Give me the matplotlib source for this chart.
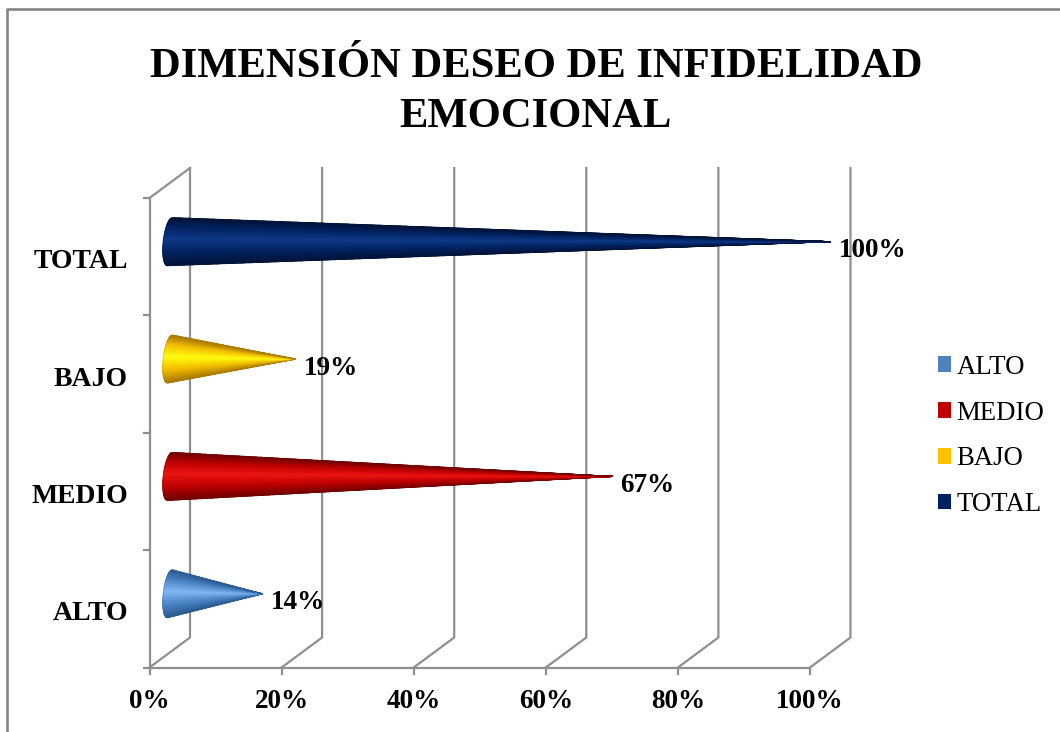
import numpy as np
import matplotlib
matplotlib.use('Agg')
import matplotlib.pyplot as plt
from matplotlib.colors import LinearSegmentedColormap
from matplotlib.lines import Line2D
from matplotlib.patches import Patch

#Data
categories = ['ALTO', 'MEDIO', 'BAJO', 'TOTAL']
values = [14, 67, 19, 100]
value_labels = ['14%', '67%', '19%', '100%']
x_ticks = [0, 20, 40, 60, 80, 100]
title_text = 'DIMENSIÓN DESEO DE INFIDELIDAD\nEMOCIONAL'

#Colours of each cone: edge, body, highlight
legend_colors = ['#4f81bd', '#c00000', '#ffc000', '#002060']
cone_colors = [['#2c5c90', '#4c86c8', '#84b8f4'],
               ['#700000', '#bc0000', '#ee1414'],
               ['#a87a00', '#f4be00', '#ffff10'],
               ['#001338', '#022260', '#0e3a88']]

W, H = 1060, 732
plt.rcParams['font.family'] = ['Liberation Serif', 'DejaVu Serif']
fig = plt.figure(figsize=(W/100, H/100), dpi=100)

#Front plane of the 3D box in pixels
left, right, top, bottom = 149.5, 810, 198, 667.5
ax = fig.add_axes([left/W, 1-bottom/H, (right-left)/W, (bottom-top)/H])
ax.set_xlim(0, 100)
ax.set_ylim(0, 4)
ax.patch.set_alpha(0)

px_x = (right-left)/100
px_y = (bottom-top)/4
dx = 40.5/px_x  #depth of the box
dy = 30/px_y
grey = '#8f8f8f'

for s in ['top', 'right']:
    ax.spines[s].set_visible(False)
for s in ['left', 'bottom']:
    ax.spines[s].set_color(grey)
    ax.spines[s].set_linewidth(1.6)

ax.set_xticks(x_ticks)
ax.set_xticklabels([str(t)+'%' for t in x_ticks], fontsize=19.5, fontweight='bold')
ax.tick_params(axis='x', length=5, width=1.6, color=grey, pad=10.5)
ax.set_yticks(range(5))
ax.set_yticklabels([])
ax.tick_params(axis='y', which='major', length=5, width=1.6, color=grey)
ax.set_yticks(np.arange(len(categories))+0.5-2/px_y, minor=True)
ax.set_yticklabels(categories, minor=True, fontsize=20, fontweight='bold')
ax.tick_params(axis='y', which='minor', length=0, pad=15.5)

#Wall lines going back from the floor
for t in x_ticks:
    ax.plot([t, t+dx, t+dx], [0, dy, 4+dy], color=grey, lw=1.6, clip_on=False, zorder=1)
ax.plot([0, dx], [4, 4+dy], color=grey, lw=1.6, clip_on=False, zorder=1)

#Cones
t = np.linspace(-1, 1, 61)
s = np.linspace(0, 1, 80)[:, None]
r = 24/px_y
for i in range(len(values)):
    cy = i + 0.5 + dy/2
    x0 = dx/2
    cmap = LinearSegmentedColormap.from_list('c', [(0, cone_colors[i][0]), (0.28, cone_colors[i][1]),
                                                   (0.56, cone_colors[i][2]), (0.82, cone_colors[i][1]),
                                                   (1, cone_colors[i][0])])
    base_x = x0 + (2.5*t - 6.5*np.sqrt(1-t**2))/px_x
    base_y = cy + r*t
    tip = x0 + values[i]
    X = base_x*(1-s) + tip*s
    Y = base_y*(1-s) + cy*s
    C = np.tile(t, (len(s), 1))
    ax.pcolormesh(X, Y, C, cmap=cmap, shading='gouraud', zorder=3, clip_on=False)
    #soft outline so the sloped edges are not jagged
    ax.plot(list(base_x)+[tip, base_x[0]], list(base_y)+[cy, base_y[0]],
            color=cone_colors[i][0], lw=0.4, alpha=0.5, zorder=3, clip_on=False,
            solid_joinstyle='bevel')
    ax.annotate(value_labels[i], (tip, cy), xytext=(6, -6.5), textcoords='offset points',
                fontsize=19.5, fontweight='bold', va='center', ha='left', zorder=5,
                annotation_clip=False)

#Title
fig.text(536/W, 1-92/H, title_text, fontsize=30.7, fontweight='bold', ha='center', va='center',
         linespacing=1.4)

#Legend
handles = [Patch(facecolor=c, edgecolor='none') for c in legend_colors]
fig.legend(handles, categories, loc='center left', bbox_to_anchor=(938/W, 1-436/H), frameon=False,
           fontsize=19.3, handlelength=0.49, handleheight=0.5, handletextpad=0.2, labelspacing=0.78,
           borderpad=0, borderaxespad=0)

#Chart frame: only the top and left edges are in the picture
fig.add_artist(Line2D([7/W, 7/W, 1], [0, 1-9/H, 1-9/H], color='#858585', lw=1.9))

fig.savefig('out.png', dpi=100, facecolor='white')
